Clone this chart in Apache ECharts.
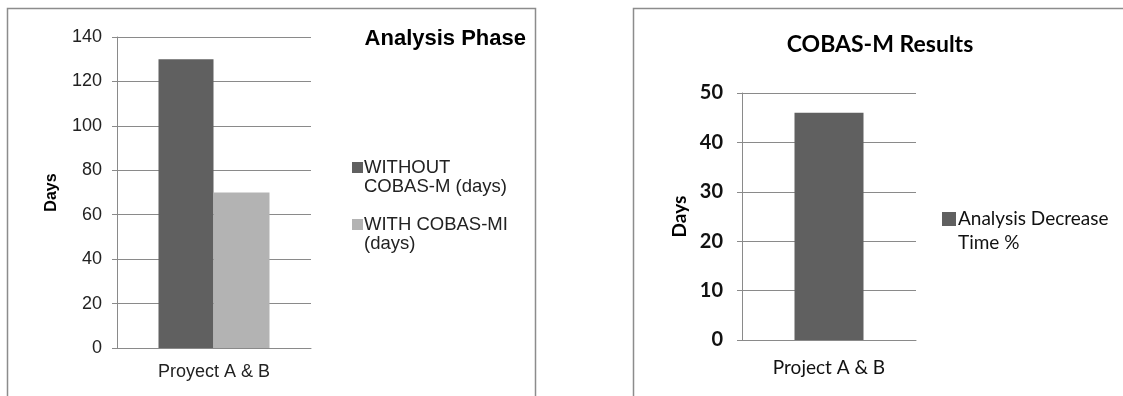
<!DOCTYPE html>
<html><head><meta charset="utf-8">
<script src="https://cdn.jsdelivr.net/npm/echarts@6/dist/echarts.min.js"></script>
<style>html,body{margin:0;padding:0;background:#fff}#c{width:1123px;height:396px}</style>
</head><body><div id="c"></div>
<script>
const leftCategories = ['Proyect A & B'];
const leftSeriesNames = ['WITHOUT\nCOBAS-M (days)', 'WITH COBAS-MI\n(days)'];
const withoutValues = [130];
const withValues = [70];
const rightCategories = ['Project A & B'];
const rightSeriesName = 'Analysis Decrease\nTime %';
const decreaseValues = [46];

const chart = echarts.init(document.getElementById('c'));
const arial = 'Liberation Sans, Arial, sans-serif';
const calib = 'Lato, Open Sans, sans-serif';
const gridLine = {lineStyle: {color: '#8a8a8a', width: 1}};
chart.setOption({
  animation: false,
  backgroundColor: '#fff',
  graphic: [
    {type: 'rect', shape: {x: 7.5, y: 8.5, width: 528, height: 400}, style: {fill: null, stroke: '#8c8c8c', lineWidth: 1.5}},
    {type: 'rect', shape: {x: 633.5, y: 8.5, width: 520, height: 400}, style: {fill: null, stroke: '#8c8c8c', lineWidth: 1.5}}
  ],
  title: [
    {text: 'Analysis Phase', right: 1123 - 526, top: 28, padding: 0, textStyle: {fontFamily: arial, fontWeight: 'bold', fontSize: 22, color: '#000'}},
    {text: 'COBAS-M Results', left: 880, textAlign: 'center', top: 33, padding: 0, textStyle: {fontFamily: calib, fontWeight: 'bold', fontSize: 23, color: '#000'}}
  ],
  legend: [
    {orient: 'vertical', left: 352, top: 158, padding: 0, itemWidth: 11, itemHeight: 30, itemGap: 19,
     icon: 'path://M0,0L11,0L11,11L0,11Z M0,30L0.01,30L0,30Z',
     data: leftSeriesNames,
     textStyle: {fontFamily: arial, fontSize: 18.5, color: '#222', lineHeight: 19, padding: [0, 0, 0, -4]}},
    {orient: 'vertical', left: 942, top: 207, padding: 0, itemWidth: 14, itemHeight: 38,
     icon: 'path://M0,0L14,0L14,14L0,14Z M0,38L0.01,38L0,38Z',
     data: [rightSeriesName],
     textStyle: {fontFamily: calib, fontSize: 19, color: '#111', lineHeight: 24, padding: [0, 0, 0, -3]}}
  ],
  grid: [
    {left: 117, top: 37, width: 194, height: 311},
    {left: 742, top: 93, width: 174, height: 247}
  ],
  xAxis: [
    {type: 'category', gridIndex: 0, data: leftCategories,
     axisLine: {lineStyle: {color: '#8a8a8a'}}, axisTick: {lineStyle: {color: '#8a8a8a'}, length: 5},
     axisLabel: {fontFamily: arial, fontSize: 18, color: '#222', margin: 15}},
    {type: 'category', gridIndex: 1, data: rightCategories,
     axisLine: {lineStyle: {color: '#8a8a8a'}}, axisTick: {lineStyle: {color: '#8a8a8a'}, length: 5},
     axisLabel: {fontFamily: calib, fontSize: 19, color: '#111', margin: 18}}
  ],
  yAxis: [
    {type: 'value', gridIndex: 0, min: 0, max: 140, interval: 20,
     name: 'Days', nameLocation: 'middle', nameGap: 57,
     nameTextStyle: {fontFamily: arial, fontWeight: 'bold', fontSize: 16, color: '#000'},
     axisLine: {show: true, lineStyle: {color: '#8a8a8a'}}, axisTick: {show: true, length: 5, lineStyle: {color: '#8a8a8a'}},
     splitLine: gridLine,
     axisLabel: {fontFamily: arial, fontSize: 18, color: '#222', margin: 15}},
    {type: 'value', gridIndex: 1, min: 0, max: 50, interval: 10,
     name: 'Days', nameLocation: 'middle', nameGap: 53,
     nameTextStyle: {fontFamily: calib, fontWeight: 'bold', fontSize: 19, color: '#000'},
     axisLine: {show: true, lineStyle: {color: '#8a8a8a'}}, axisTick: {show: true, length: 5, lineStyle: {color: '#8a8a8a'}},
     splitLine: gridLine,
     axisLabel: {fontFamily: calib, fontWeight: 'bold', fontSize: 20, color: '#111', margin: 19}}
  ],
  series: [
    {name: leftSeriesNames[0], type: 'bar', xAxisIndex: 0, yAxisIndex: 0, data: withoutValues, barWidth: 55, barGap: '0%', itemStyle: {color: '#606060'}},
    {name: leftSeriesNames[1], type: 'bar', xAxisIndex: 0, yAxisIndex: 0, data: withValues, barWidth: 56, barGap: '0%', itemStyle: {color: '#b3b3b3'}},
    {name: rightSeriesName, type: 'bar', xAxisIndex: 1, yAxisIndex: 1, data: decreaseValues, barWidth: 69, itemStyle: {color: '#606060'}}
  ]
});
</script></body></html>
